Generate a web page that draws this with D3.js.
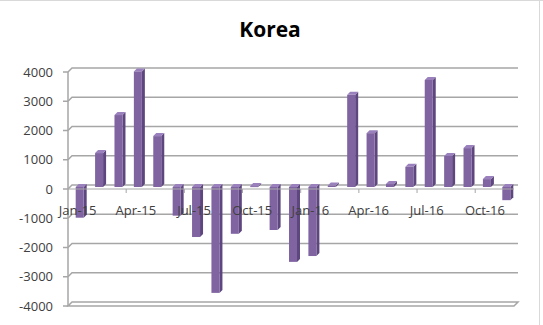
<!DOCTYPE html>
<html><head><meta charset="utf-8">
<script src="https://cdn.jsdelivr.net/npm/d3@7"></script>
<style>body{margin:0;background:#fff}svg{display:block}</style>
</head><body>
<script>
const months = ["Jan-15","Feb-15","Mar-15","Apr-15","May-15","Jun-15","Jul-15","Aug-15","Sep-15","Oct-15","Nov-15","Dec-15",
  "Jan-16","Feb-16","Mar-16","Apr-16","May-16","Jun-16","Jul-16","Aug-16","Sep-16","Oct-16","Nov-16"];
const values = [-1050,1160,2460,3950,1740,-980,-1710,-3620,-1600,30,-1470,-2560,
  -2360,50,3150,1840,100,690,3660,1060,1330,270,-450];
const yTicks = [-4000,-3000,-2000,-1000,0,1000,2000,3000,4000];
const labelMonths = ["Jan-15","Apr-15","Jul-15","Oct-15","Jan-16","Apr-16","Jul-16","Oct-16"];
const title = "Korea";

const W = 543, H = 325;
const svg = d3.select("body").append("svg").attr("width", W).attr("height", H);
const dx = -4, dy = 4; // depth offset back->front
const x = d3.scaleBand().domain(months).range([72, 518]).paddingInner(0).paddingOuter(0);
const y = d3.scaleLinear().domain([-4000, 4000]).range([302, 68]);
const grid = "#a6a6a6";

// chart border (partially visible)
svg.append("line").attr("x1", 0).attr("x2", W).attr("y1", 0.5).attr("y2", 0.5).attr("stroke", "#d9d9d9");
svg.append("line").attr("x1", 539.5).attr("x2", 539.5).attr("y1", 0).attr("y2", H).attr("stroke", "#d9d9d9");

svg.append("text").attr("x", 270).attr("y", 37).attr("text-anchor", "middle")
  .attr("font-family", "Open Sans, sans-serif").attr("font-weight", "bold").attr("font-size", 21)
  .attr("fill", "#000").text(title);

const g = svg.append("g");
// gridlines on back wall + left diagonal
yTicks.forEach(t => {
  if (t === -4000 || t === 0) return;
  const yy = y(t);
  g.append("path").attr("d", `M${72 + dx},${yy + dy}L72,${yy}L518,${yy}`)
    .attr("fill", "none").attr("stroke", grid).attr("stroke-width", 1.5);
});
// left wall front edge
g.append("line").attr("x1", 68).attr("x2", 68).attr("y1", y(4000) + dy).attr("y2", y(-4000) + dy)
  .attr("stroke", grid).attr("stroke-width", 1.5);
// y ticks
yTicks.forEach(t => {
  g.append("line").attr("x1", 63).attr("x2", 68).attr("y1", y(t) + dy).attr("y2", y(t) + dy)
    .attr("stroke", grid).attr("stroke-width", 1.5);
  g.append("text").attr("x", 53).attr("y", y(t) + dy).attr("dy", "0.35em").attr("text-anchor", "end")
    .attr("font-family", "Open Sans, sans-serif").attr("font-size", 13).attr("fill", "#404040").text(t);
});
// floor plate at -4000
const yf = y(-4000);
g.append("path").attr("d", `M68,${yf + dy}L72,${yf}L518,${yf}L514,${yf + dy}Z`)
  .attr("fill", "#fff").attr("stroke", grid).attr("stroke-width", 1.5);

// zero plane (category axis) back line
const y0 = y(0);
g.append("path").attr("d", `M68,${y0 + dy}L72,${y0}L518,${y0}`)
  .attr("fill", "none").attr("stroke", grid).attr("stroke-width", 1.5);

// bars
const bw = 8, side = 3, cap = 3;
const bars = g.append("g");
months.forEach((m, i) => {
  const v = values[i];
  const cx = x(m) + x.bandwidth() / 2 - 2;
  const x0 = cx - bw / 2;
  const yv = y(v) + 2, yz = y(0) + 2;
  const top = Math.min(yv, yz), bot = Math.max(yv, yz);
  const h = Math.max(bot - top, 1);
  // side
  bars.append("path").attr("d", `M${x0 + bw},${top}L${x0 + bw + side},${top - cap}L${x0 + bw + side},${top + h - cap}L${x0 + bw},${top + h}Z`)
    .attr("fill", "#5e467e");
  // top cap
  bars.append("path").attr("d", `M${x0},${top}L${x0 + side},${top - cap}L${x0 + bw + side},${top - cap}L${x0 + bw},${top}Z`)
    .attr("fill", "#9a80bd");
  // front
  bars.append("rect").attr("x", x0).attr("y", top).attr("width", bw).attr("height", h).attr("fill", "#8064a2");
});

// zero front line over bars
g.append("line").attr("x1", 68).attr("x2", 514).attr("y1", y0 + dy).attr("y2", y0 + dy)
  .attr("stroke", grid).attr("stroke-width", 1);
// category ticks & labels
labelMonths.forEach(m => {
  const i = months.indexOf(m);
  if (i > 0) {
    const tx = x(m) + dx;
    g.append("line").attr("x1", tx).attr("x2", tx).attr("y1", y0 + dy).attr("y2", y0 + dy + 4)
      .attr("stroke", grid).attr("stroke-width", 1);
  }
  g.append("text").attr("x", x(m) + x.bandwidth() / 2 - 4).attr("y", 215)
    .attr("text-anchor", "middle").attr("font-family", "Open Sans, sans-serif").attr("font-size", 13)
    .attr("fill", "#404040").text(m);
});
</script>
</body></html>
